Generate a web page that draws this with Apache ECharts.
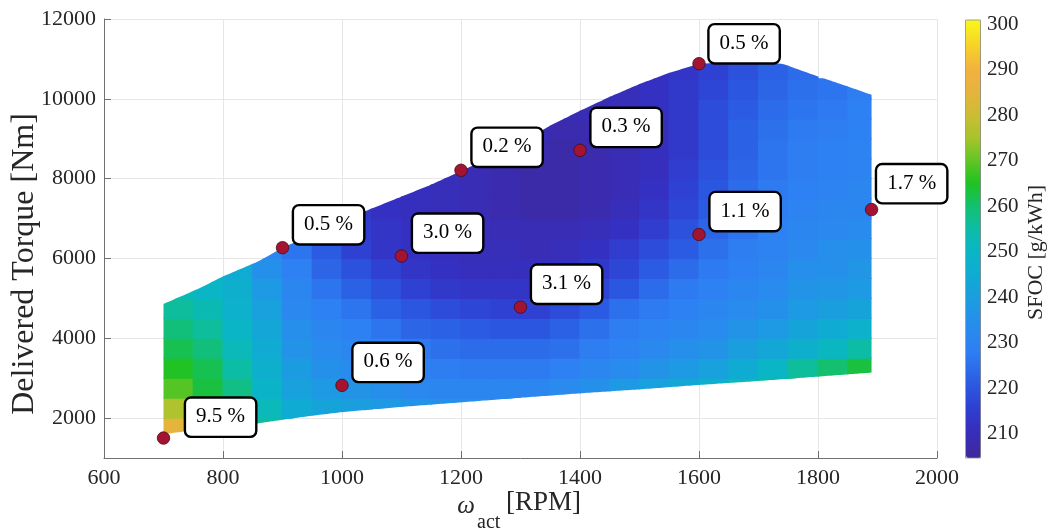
<!DOCTYPE html>
<html>
<head>
<meta charset="utf-8">
<script src="https://cdn.jsdelivr.net/npm/echarts@6/dist/echarts.min.js"></script>
<style>
  html, body { margin: 0; padding: 0; background: #ffffff; }
  #chart { width: 1051px; height: 530px; }
</style>
</head>
<body>
<div id="chart"></div>
<script>
// ---- SFOC map data -------------------------------------------------------
// Cell centres of the fuel-map grid (50 RPM x 500 Nm cells).
const rpmCols = [725, 775, 825, 875, 925, 975, 1025, 1075, 1125, 1175, 1225, 1275,
                 1325, 1375, 1425, 1475, 1525, 1575, 1625, 1675, 1725, 1775, 1825, 1875];
const torqueRows = [1750, 2250, 2750, 3250, 3750, 4250, 4750, 5250, 5750, 6250,
                    6750, 7250, 7750, 8250, 8750, 9250, 9750, 10250, 10750];
const _ = null;
// SFOC [g/kWh], one row per torque level, one column per speed.
const sfocGrid = [
  [285, 271, 265, 256, 250, _, _, _, _, _, _, _, _, _, _, _, _, _, _, _, _, _, _, _],
  [276, 266, 262, 252, 245, 242, 240, 238, 236, 235, 235, 235, _, _, _, _, _, _, _, _, _, _, _, _],
  [269, 263, 258, 249, 241, 238, 236, 234, 232, 231, 231, 231, 231, 233, 235, 238, 241, 244, 247, 252, 257, 261, _, _],
  [265, 262, 255, 247, 239, 235, 233, 231, 229, 228, 227, 227, 227, 229, 231, 233, 236, 238, 241, 245, 250, 256, 260, 263],
  [262, 259, 252, 245, 236, 233, 231, 229, 227, 225, 224, 224, 224, 225, 228, 230, 232, 234, 236, 240, 243, 247, 251, 255],
  [259, 256, 250, 243, 234, 231, 229, 226, 223, 222, 221, 220, 220, 222, 225, 228, 230, 231, 233, 236, 238, 242, 245, 248],
  [256, 253, 248, 241, 232, 229, 226, 222, 220, 218, 217, 216, 216, 218, 221, 225, 227, 229, 231, 233, 235, 238, 240, 242],
  [253, 250, 247, 238, 231, 226, 222, 219, 216, 214, 213, 213, 213, 214, 217, 220, 224, 227, 229, 231, 233, 236, 237, 238],
  [_, 248, 245, 235, 229, 223, 219, 216, 213, 212, 211, 211, 211, 212, 214, 217, 221, 224, 227, 229, 231, 234, 235, 237],
  [_, _, _, 231, 226, 221, 216, 213, 212, 211, 210, 210, 209, 210, 212, 215, 218, 221, 225, 228, 230, 232, 234, 235],
  [_, _, _, _, 223, 218, 215, 213, 212, 211, 210, 209, 209, 209, 210, 212, 215, 219, 223, 226, 229, 231, 232, 233],
  [_, _, _, _, _, _, 214, 212, 211, 210, 209, 208, 207, 207, 208, 210, 213, 217, 221, 225, 228, 230, 231, 231],
  [_, _, _, _, _, _, _, 212, 211, 210, 209, 208, 207, 207, 208, 209, 212, 216, 220, 224, 227, 229, 230, 231],
  [_, _, _, _, _, _, _, _, _, 210, 209, 208, 207, 207, 208, 209, 211, 215, 219, 223, 226, 228, 229, 230],
  [_, _, _, _, _, _, _, _, _, _, 209, 209, 208, 207, 208, 209, 211, 214, 218, 222, 226, 228, 229, 230],
  [_, _, _, _, _, _, _, _, _, _, _, _, 209, 208, 208, 209, 211, 214, 218, 222, 225, 227, 228, 229],
  [_, _, _, _, _, _, _, _, _, _, _, _, _, 209, 209, 210, 212, 214, 218, 221, 224, 226, 227, 229],
  [_, _, _, _, _, _, _, _, _, _, _, _, _, _, 210, 210, 212, 214, 217, 220, 223, 225, 226, 228],
  [_, _, _, _, _, _, _, _, _, _, _, _, _, _, _, _, 212, 213, 216, 219, 222, 224, _, _]
];

// Operating envelope: maximum and minimum delivered torque versus speed.
const upperRpm    = [700, 760, 800, 860, 900, 950, 1000, 1050, 1100, 1150, 1200, 1250, 1300,
                     1350, 1400, 1450, 1500, 1550, 1600, 1650, 1700, 1740, 1800, 1850, 1890];
const upperTorque = [4860, 5250, 5550, 5930, 6270, 6600, 6950, 7250, 7550, 7850, 8190, 8530, 8900,
                     9330, 9700, 10050, 10370, 10650, 10880, 10910, 10910, 10880, 10560, 10310, 10100];
const lowerRpm    = [700, 750, 800, 860, 900, 950, 1000, 1100, 1200, 1300, 1400, 1500, 1600, 1700, 1800, 1890];
const lowerTorque = [1600, 1690, 1770, 1870, 1960, 2060, 2150, 2280, 2395, 2510, 2620, 2720, 2830, 2930, 3040, 3140];

// Measured operating points and their relative SFOC deviation.
const pointRpm    = [700, 900, 1000, 1100, 1200, 1300, 1400, 1600, 1600, 1890];
const pointTorque = [1500, 6270, 2820, 6060, 8210, 4780, 8710, 10880, 6600, 7225];
const pointLabels = ['9.5 %', '0.5 %', '0.6 %', '3.0 %', '0.2 %', '3.1 %', '0.3 %', '0.5 %', '1.1 %', '1.7 %'];

// Axis ticks
const yTicks = [2000, 4000, 6000, 8000, 10000, 12000];
const cbarTicks = [210, 220, 230, 240, 250, 260, 270, 280, 290, 300];
const cbarMin = 204.6, cbarMax = 301;

// ---- styling helpers -----------------------------------------------------
const FONT = "'Liberation Serif', 'Times New Roman', serif";
const TEXT = '#262626';

// Colormap: blue-violet -> blue -> cyan -> green -> orange -> yellow
const cmapStops = [
  [204.6, '#3d2a9a'], [208, '#3b2bb0'], [212, '#3431c2'], [216, '#2e41d3'],
  [220, '#2b56df'], [224, '#2c6be9'], [228, '#2e7ef3'], [232, '#2a88ef'],
  [236, '#2293e8'], [240, '#1a9ede'], [245, '#10abd2'], [250, '#0ab5c6'],
  [255, '#0cbca6'], [260, '#13c070'], [265, '#1fc222'], [270, '#62c426'],
  [275, '#a6c42c'], [280, '#cbbd34'], [285, '#e5b43c'], [290, '#f3b040'],
  [295, '#f6d02a'], [301, '#f9f81a']
];
function hexToRgb(h) { return [1, 3, 5].map(i => parseInt(h.substr(i, 2), 16)); }
function colorAt(v) {
  for (let k = 1; k < cmapStops.length; k++) {
    if (v <= cmapStops[k][0]) {
      const [v0, c0] = cmapStops[k - 1], [v1, c1] = cmapStops[k];
      const t = (v - v0) / (v1 - v0), a = hexToRgb(c0), b = hexToRgb(c1);
      return 'rgb(' + a.map((x, i) => Math.round(x + t * (b[i] - x))).join(',') + ')';
    }
  }
  return cmapStops[cmapStops.length - 1][1];
}
const cmapColors = [];
for (let i = 0; i <= 96; i++) cmapColors.push(colorAt(cbarMin + (cbarMax - cbarMin) * i / 96));

// ---- heatmap cells clipped to the envelope --------------------------------
const cellData = [];
sfocGrid.forEach((row, j) => row.forEach((v, i) => {
  if (v !== null) cellData.push([rpmCols[i], torqueRows[j], v]);
}));
const HALF_RPM = 25, HALF_TQ = 250, PAD_RPM = 1, PAD_TQ = 15;
const envMin = upperRpm[0], envMax = upperRpm[upperRpm.length - 1];

function envAt(xs, ys, x) {
  if (x <= xs[0]) return ys[0];
  for (let k = 1; k < xs.length; k++) {
    if (x <= xs[k]) {
      const t = (x - xs[k - 1]) / (xs[k] - xs[k - 1]);
      return ys[k - 1] + t * (ys[k] - ys[k - 1]);
    }
  }
  return ys[ys.length - 1];
}

function renderCell(params, api) {
  const rpm = api.value(0), tq = api.value(1);
  const xa = Math.max(envMin, rpm - HALF_RPM - PAD_RPM);
  const xb = Math.min(envMax, rpm + HALF_RPM + PAD_RPM);
  const ya = tq - HALF_TQ - PAD_TQ, yb = tq + HALF_TQ + PAD_TQ;
  const N = 12, top = [], bot = [];
  for (let i = 0; i <= N; i++) {
    const x = xa + (xb - xa) * i / N;
    const up = envAt(upperRpm, upperTorque, x);
    const lo = envAt(lowerRpm, lowerTorque, x);
    let t = Math.min(yb, up), b = Math.max(ya, lo);
    if (t < b) { if (up < ya) { t = b = up; } else { t = b = lo; } }
    top.push(api.coord([x, t]));
    bot.push(api.coord([x, b]));
  }
  return {
    type: 'polygon',
    shape: { points: top.concat(bot.reverse()) },
    style: { fill: api.visual('color') }
  };
}

// ---- operating point markers ----------------------------------------------
const DOT = 12.5;
const labelShift = { 0: [23, -2], 7: [11, -1], 9: [6, -7] };
const pointData = pointRpm.map((r, i) => {
  const s = labelShift[i] || [12, -4];
  return {
    value: [r, pointTorque[i]],
    label: { position: [DOT / 2 + s[0], DOT / 2 + s[1]] }
  };
});

const plainNumber = v => String(v);

const chart = echarts.init(document.getElementById('chart'), null, { renderer: 'canvas' });
chart.setOption({
  animation: false,
  backgroundColor: '#ffffff',
  grid: [
    { left: 104, right: 114, top: 19, bottom: 72 },
    { left: 966, width: 15, top: 20, height: 438 }
  ],
  xAxis: [
    {
      type: 'value', gridIndex: 0, min: 600, max: 2000, interval: 200,
      axisLine: { lineStyle: { color: '#707070', width: 1 } },
      axisTick: { inside: true, length: 7, lineStyle: { color: '#707070' } },
      splitLine: { show: true, lineStyle: { color: '#e6e6e6', width: 1 } },
      axisLabel: { fontFamily: FONT, fontSize: 22, color: TEXT, margin: 9, formatter: plainNumber }
    },
    { type: 'value', gridIndex: 1, min: 0, max: 1, show: false }
  ],
  yAxis: [
    {
      type: 'value', gridIndex: 0, min: 1000, max: 12000,
      axisLine: { show: true, lineStyle: { color: '#707070', width: 1 } },
      axisTick: { show: true, inside: true, length: 7, customValues: yTicks, lineStyle: { color: '#707070' } },
      splitLine: { show: true, lineStyle: { color: '#e6e6e6', width: 1 } },
      axisLabel: { fontFamily: FONT, fontSize: 22, color: TEXT, margin: 8, customValues: yTicks, formatter: plainNumber }
    },
    {
      type: 'value', gridIndex: 1, position: 'right', min: cbarMin, max: cbarMax,
      axisLine: { show: false },
      axisTick: { show: true, inside: false, length: 3, customValues: cbarTicks, lineStyle: { color: '#555555' } },
      splitLine: { show: false },
      axisLabel: { fontFamily: FONT, fontSize: 21, color: TEXT, margin: 6, customValues: cbarTicks, formatter: plainNumber }
    }
  ],
  visualMap: {
    type: 'continuous', seriesIndex: 0, dimension: 2,
    min: cbarMin, max: cbarMax, calculable: false, show: true,
    orient: 'vertical', left: 966, top: 20, itemWidth: 15, itemHeight: 438,
    padding: 0, text: null, showLabel: false,
    inRange: { color: cmapColors }
  },
  series: [
    {
      type: 'custom', xAxisIndex: 0, yAxisIndex: 0, data: cellData,
      encode: { x: 0, y: 1 }, renderItem: renderCell, silent: true, clip: true, z: 1
    },
    {
      type: 'scatter', xAxisIndex: 0, yAxisIndex: 0, data: pointData, z: 5,
      symbol: 'circle', symbolSize: DOT, silent: true,
      itemStyle: { color: '#a2142f', borderColor: '#4d0a17', borderWidth: 0.8, opacity: 1 },
      label: {
        show: true, formatter: p => pointLabels[p.dataIndex],
        align: 'left', verticalAlign: 'bottom', opacity: 1,
        fontFamily: FONT, fontSize: 21, lineHeight: 22, color: '#000000',
        backgroundColor: '#ffffff', borderColor: '#000000', borderWidth: 2.4, borderRadius: 5,
        padding: [7, 10, 8, 10]
      }
    }
  ],
  graphic: [
    {
      type: 'text', x: 24.5, y: 264, rotation: Math.PI / 2,
      style: { text: 'Delivered Torque [Nm]', font: '32px ' + FONT, fill: TEXT,
               textAlign: 'center', textVerticalAlign: 'middle', align: 'center', verticalAlign: 'middle' }
    },
    {
      type: 'text', x: 466, y: 506,
      style: { text: 'ω', font: 'italic 25px ' + FONT, fill: TEXT,
               textAlign: 'center', textVerticalAlign: 'middle', align: 'center', verticalAlign: 'middle' }
    },
    {
      type: 'text', x: 477, y: 523,
      style: { text: 'act', font: '20px ' + FONT, fill: TEXT,
               textAlign: 'left', textVerticalAlign: 'middle', align: 'left', verticalAlign: 'middle' }
    },
    {
      type: 'text', x: 506, y: 503,
      style: { text: '[RPM]', font: '27px ' + FONT, fill: TEXT,
               textAlign: 'left', textVerticalAlign: 'middle', align: 'left', verticalAlign: 'middle' }
    },
    {
      type: 'text', x: 1036.7, y: 252.5, rotation: Math.PI / 2,
      style: { text: 'SFOC [g/kWh]', font: '22px ' + FONT, fill: TEXT,
               textAlign: 'center', textVerticalAlign: 'middle', align: 'center', verticalAlign: 'middle' }
    },
    {
      type: 'rect', z: 10, silent: true,
      shape: { x: 965.5, y: 20, width: 15, height: 438 },
      style: { fill: 'none', stroke: '#8a8a8a', lineWidth: 0.8 }
    }
  ]
});
</script>
</body>
</html>
